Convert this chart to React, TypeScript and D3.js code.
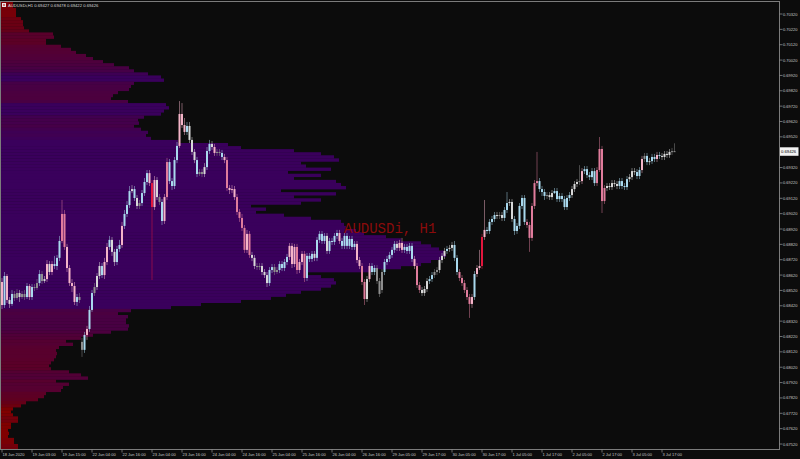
import React from "react";
import * as d3 from "d3";

const W = 800;
const H = 459;

// price axis tick labels
const priceTicks = [
  0.6752, 0.6762, 0.6772, 0.6782, 0.6792, 0.6802, 0.6812, 0.6822, 0.6832, 0.6842,
  0.6852, 0.6862, 0.6872, 0.6882, 0.6892, 0.6902, 0.6912, 0.6922, 0.6932, 0.6942,
  0.6952, 0.6962, 0.6972, 0.6982, 0.6992, 0.7002, 0.7012, 0.7022, 0.7032,
];

// time axis labels (one every 12 bars)
const timeLabels = [
  "18 Jun 2020", "19 Jun 03:00", "19 Jun 15:00", "22 Jun 04:00", "22 Jun 16:00",
  "23 Jun 04:00", "23 Jun 16:00", "24 Jun 04:00", "24 Jun 16:00", "25 Jun 04:00",
  "25 Jun 16:00", "26 Jun 04:00", "26 Jun 16:00", "29 Jun 05:00", "29 Jun 17:00",
  "30 Jun 05:00", "30 Jun 17:00", "1 Jul 05:00", "1 Jul 17:00", "2 Jul 05:00",
  "2 Jul 17:00", "3 Jul 05:00", "3 Jul 17:00",
];
const labelEvery = 12;

// H1 bars, prices in 1e-5 units
const closeP = [
  68425, 68614, 68458, 68432, 68497, 68471, 68503, 68477, 68497, 68477,
  68549, 68477, 68542, 68536, 68568, 68627, 68581, 68594, 68692, 68640,
  68692, 68679, 68732, 68842, 69018, 68803, 68666, 68568, 68549, 68445,
  68477, 68458, 68133, 68230, 68269, 68393, 68503, 68542, 68614, 68679,
  68620, 68705, 68803, 68849, 68771, 68705, 68790, 68816, 68940, 69018,
  69076, 69167, 69180, 69122, 69070, 69089, 69154, 69226, 69284, 69219,
  69063, 69239, 69128, 69096, 68972, 69128, 69356, 69232, 69200, 69369,
  69461, 69669, 69597, 69552, 69591, 69500, 69422, 69369, 69278, 69291,
  69278, 69323, 69428, 69474, 69454, 69415, 69422, 69415, 69389, 69369,
  69187, 69174, 69180, 69128, 69031, 68992, 68927, 68784, 68888, 68751,
  68732, 68679, 68672, 68679, 68640, 68620, 68568, 68653, 68672, 68640,
  68653, 68692, 68666, 68705, 68738, 68810, 68692, 68803, 68653, 68705,
  68758, 68601, 68745, 68725, 68758, 68732, 68849, 68888, 68842, 68875,
  68777, 68842, 68836, 68875, 68894, 68842, 68810, 68875, 68810, 68855,
  68803, 68823, 68718, 68679, 68575, 68464, 68594, 68679, 68640, 68666,
  68581, 68497, 68640, 68705, 68725, 68751, 68784, 68823, 68797, 68829,
  68784, 68803, 68777, 68810, 68725, 68679, 68555, 68523, 68503, 68529,
  68581, 68594, 68620, 68640, 68653, 68718, 68745, 68777, 68790, 68797,
  68816, 68732, 68640, 68601, 68568, 68523, 68477, 68432, 68477, 68627,
  68666, 68679, 68868, 68914, 68907, 68966, 68985, 69011, 69005, 69011,
  68992, 69044, 69089, 69096, 68985, 68907, 68940, 69070, 69122, 68966,
  68946, 68862, 69070, 69219, 69232, 69180, 69161, 69135, 69141, 69128,
  69154, 69167, 69115, 69135, 69115, 69063, 69122, 69141, 69180, 69213,
  69226, 69232, 69297, 69310, 69271, 69258, 69297, 69219, 69304, 69441,
  69102, 69187, 69200, 69193, 69219, 69213, 69200, 69232, 69200, 69193,
  69245, 69258, 69297, 69291, 69265, 69304, 69376, 69396, 69356, 69362,
  69389, 69376, 69402, 69396, 69389, 69409, 69402, 69422, 69427, 69426,
];

const highP = [
  68601, 68640, 68627, 68477, 68523, 68516, 68529, 68523, 68516, 68523,
  68568, 68562, 68562, 68562, 68594, 68653, 68646, 68614, 68718, 68711,
  68711, 68745, 68751, 68875, 69109, 69044, 68823, 68685, 68594, 68575,
  68497, 68503, 68211, 68250, 68289, 68419, 68523, 68568, 68633, 68705,
  68698, 68732, 68829, 68875, 68868, 68790, 68810, 68849, 68966, 69044,
  69102, 69200, 69206, 69200, 69141, 69109, 69174, 69252, 69304, 69304,
  69239, 69265, 69258, 69148, 69115, 69148, 69383, 69376, 69252, 69389,
  69487, 69753, 69740, 69643, 69617, 69617, 69519, 69441, 69389, 69310,
  69310, 69349, 69454, 69500, 69493, 69474, 69441, 69441, 69435, 69409,
  69389, 69206, 69206, 69200, 69148, 69050, 69018, 68946, 68914, 68907,
  68771, 68751, 68698, 68698, 68698, 68659, 68640, 68672, 68692, 68692,
  68672, 68711, 68711, 68725, 68758, 68829, 68829, 68823, 68823, 68725,
  68777, 68777, 68764, 68764, 68777, 68777, 68868, 68907, 68907, 68894,
  68894, 68862, 68862, 68894, 68914, 68914, 68862, 68894, 68894, 68875,
  68875, 68842, 68842, 68738, 68698, 68594, 68614, 68698, 68698, 68685,
  68685, 68601, 68659, 68725, 68745, 68771, 68803, 68842, 68842, 68849,
  68862, 68823, 68823, 68829, 68829, 68745, 68698, 68575, 68542, 68549,
  68601, 68614, 68640, 68659, 68672, 68738, 68764, 68797, 68810, 68816,
  68836, 68842, 68751, 68659, 68620, 68588, 68542, 68497, 68497, 68646,
  68685, 68784, 68888, 69109, 68933, 68985, 69005, 69031, 69031, 69031,
  69031, 69063, 69161, 69115, 69115, 69005, 68959, 69089, 69141, 69141,
  68985, 68966, 69089, 69239, 69422, 69252, 69200, 69180, 69161, 69161,
  69174, 69187, 69187, 69154, 69154, 69135, 69141, 69161, 69200, 69232,
  69245, 69336, 69317, 69330, 69330, 69291, 69317, 69317, 69323, 69519,
  69461, 69206, 69219, 69219, 69239, 69239, 69232, 69252, 69252, 69219,
  69265, 69278, 69317, 69317, 69310, 69323, 69396, 69415, 69415, 69383,
  69409, 69409, 69422, 69422, 69415, 69428, 69428, 69441, 69448, 69478,
];

const lowP = [
  68399, 68406, 68438, 68406, 68419, 68451, 68458, 68445, 68464, 68458,
  68464, 68458, 68458, 68516, 68523, 68549, 68562, 68568, 68575, 68620,
  68620, 68659, 68653, 68711, 68829, 68784, 68640, 68549, 68510, 68425,
  68419, 68438, 68087, 68113, 68198, 68250, 68380, 68484, 68523, 68594,
  68601, 68594, 68685, 68784, 68745, 68679, 68685, 68771, 68797, 68920,
  68998, 69057, 69154, 69102, 69050, 69050, 69070, 69135, 69206, 69200,
  68588, 69044, 69109, 69076, 68946, 68953, 69109, 69213, 69174, 69180,
  69349, 69448, 69578, 69532, 69532, 69480, 69402, 69349, 69258, 69265,
  69258, 69258, 69304, 69409, 69435, 69396, 69396, 69396, 69369, 69349,
  69167, 69148, 69154, 69109, 69011, 68966, 68907, 68764, 68764, 68732,
  68711, 68659, 68653, 68653, 68620, 68601, 68542, 68549, 68633, 68620,
  68627, 68633, 68646, 68646, 68685, 68718, 68666, 68672, 68627, 68633,
  68685, 68575, 68581, 68705, 68705, 68711, 68711, 68829, 68823, 68823,
  68758, 68758, 68816, 68816, 68855, 68823, 68790, 68790, 68790, 68790,
  68784, 68784, 68698, 68659, 68555, 68425, 68445, 68575, 68620, 68620,
  68562, 68477, 68503, 68620, 68685, 68705, 68732, 68764, 68777, 68777,
  68764, 68764, 68758, 68758, 68705, 68659, 68536, 68503, 68484, 68484,
  68510, 68562, 68575, 68601, 68620, 68633, 68698, 68725, 68758, 68771,
  68777, 68711, 68620, 68581, 68549, 68503, 68458, 68341, 68406, 68458,
  68607, 68653, 68659, 68849, 68888, 68888, 68946, 68966, 68985, 68985,
  68972, 68972, 69024, 69070, 68966, 68881, 68888, 68920, 69050, 68946,
  68927, 68771, 68842, 69050, 69200, 69161, 69135, 69109, 69115, 69109,
  69109, 69148, 69096, 69096, 69096, 69044, 69044, 69102, 69122, 69161,
  69193, 69206, 69213, 69278, 69252, 69239, 69239, 69200, 69200, 69291,
  69024, 69083, 69167, 69174, 69174, 69193, 69180, 69180, 69180, 69174,
  69174, 69226, 69239, 69271, 69245, 69245, 69284, 69356, 69336, 69336,
  69343, 69356, 69356, 69376, 69369, 69369, 69383, 69383, 69402, 69422,
];

// opens that differ from the previous close (session start / weekend gaps)
const gapOpens: Record<number, number> = { 0: 68575, 32: 68185, 152: 68523 };

// candle colour class
const toneStr =
  "pbpwbggwgg" + "bpbggbgwpw" + "pbbbqqpppp" + "bggbpbbgww" + "bppbwwbbpb" +
  "bbwbwgbbbp" + "Rpwgbpqbbb" + "bpppbwwwbg" + "gwbbwpggbp" + "qpppqqqqpq" +
  "wwggwwwbbg" + "gbbbbpppqp" + "pqbbbwbbbb" + "wbbbbpbbbb" + "bbppqqwpbb" +
  "gggbbbbbwp" + "pbbbbpqqww" + "wbbggwwwbw" + "wbbqqqqqpb" + "ppRpbbbbwg" +
  "wbbwwbbbbb" + "qqqqqbbbgw" + "wbbbbbbbww" + "wgpbbbbbqq" + "qqwwwwwbbb" +
  "bwwwbbpgbw" + "bbpbwwwwgg";
const tones = toneStr.split("");

const toneColor: Record<string, string> = {
  b: "#a9d9ee",
  p: "#f4b4c8",
  q: "#e07c9c",
  w: "#d8d8d8",
  g: "#8e8e8e",
  R: "#e3163d",
};

// volume profile, from the top price level downwards, 2-pip levels
const profileTop = 0.704;
const profileStep = 0.0002;
const profileVol = [
  12, 12, 15, 15, 15, 20, 22, 22, 23, 28,
  52, 53, 45, 45, 60, 70, 75, 85, 92, 102,
  113, 128, 133, 147, 160, 163, 133, 130, 128, 117,
  112, 110, 127, 165, 168, 163, 160, 143, 137, 138,
  133, 140, 147, 145, 150, 177, 227, 240, 293, 320,
  333, 338, 300, 305, 330, 287, 320, 293, 335, 340,
  345, 280, 335, 293, 320, 300, 250, 265, 255, 283,
  310, 340, 343, 345, 355, 363, 385, 400, 420, 430,
  438, 443, 445, 440, 430, 420, 400, 370, 307, 320,
  333, 335, 330, 320, 300, 285, 270, 240, 200, 170,
  130, 117, 127, 125, 125, 128, 127, 110, 92, 80,
  65, 72, 58, 55, 56, 55, 53, 50, 48, 50,
  68, 80, 87, 55, 68, 62, 60, 45, 43, 37,
  25, 20, 12, 10, 12, 17, 17, 10, 10, 7,
  8, 7, 13, 13, 17, 17,
];

const symbolText = "AUDUSDi,H1";
const watermark = "AUDUSDi, H1";

export default function App() {
  const plotL = 0.5;
  const plotT = 1.5;
  const plotR = 779.5;
  const plotB = 449.5;

  const x = d3.scaleLinear().domain([0, closeP.length - 1]).range([2, 674.5]);
  const y = d3.scaleLinear().domain([0.6752, 0.7032]).range([444, 14]);
  const vx = d3.scaleLinear().domain([0, d3.max(profileVol) as number]).range([0, 445]);
  const vColor = d3
    .scaleLinear<string>()
    .domain([10, 25, 60, 130, 155])
    .range(["#800000", "#640018", "#560030", "#480044", "#3a005c"])
    .clamp(true);

  const bars = closeP.map((c, i) => {
    const o = gapOpens[i] !== undefined ? gapOpens[i] : i > 0 ? closeP[i - 1] : c;
    return { o: o / 1e5, c: c / 1e5, h: highP[i] / 1e5, l: lowP[i] / 1e5, t: tones[i] };
  });
  const last = bars[bars.length - 1];
  const lastY = y(last.c);
  const fmt = d3.format(".5f");

  const axisFont = "'Liberation Sans', Arial, sans-serif";

  return (
    <svg
      width={W}
      height={H}
      style={{ position: "fixed", left: 0, top: 0, background: "#0c0c0c" }}
    >
      <defs>
        <clipPath id="plot">
          <rect x={plotL} y={plotT} width={plotR - plotL} height={plotB - plotT} />
        </clipPath>
      </defs>
      <rect x={0} y={0} width={W} height={H} fill="#0c0c0c" />

      <g clipPath="url(#plot)">
        {profileVol.map((v, j) => {
          const pTop = profileTop - profileStep * j;
          const pBot = pTop - profileStep;
          const y0 = y(pTop);
          const y1 = y(pBot);
          return (
            <rect
              key={"pv" + j}
              x={1}
              y={y0}
              width={vx(v)}
              height={y1 - y0 + 0.3}
              fill={vColor(v)}
            />
          );
        })}

        <text
          x={344}
          y={233}
          fontFamily="'Liberation Mono', 'DejaVu Sans Mono', monospace"
          fontSize={14}
          fill="#8b0b0b"
        >
          {watermark}
        </text>

        {bars.map((b, i) => {
          const cx = x(i);
          const col = toneColor[b.t] || "#cccccc";
          const top = y(Math.max(b.o, b.c));
          const bot = y(Math.min(b.o, b.c));
          const hy = y(Math.max(b.h, b.o, b.c));
          const ly = y(Math.min(b.l, b.o, b.c));
          return (
            <g key={"c" + i}>
              <line
                x1={cx}
                x2={cx}
                y1={hy}
                y2={ly}
                stroke={col}
                strokeOpacity={0.6}
                strokeWidth={0.8}
              />
              <rect
                x={cx - 1}
                y={top}
                width={2}
                height={Math.max(1, bot - top)}
                fill={col}
              />
            </g>
          );
        })}
      </g>

      {/* frame */}
      <rect
        x={plotL}
        y={plotT}
        width={plotR - plotL}
        height={plotB - plotT}
        fill="none"
        stroke="#7c7c7c"
        strokeWidth={1}
      />

      {/* header */}
      <rect x={2} y={3} width={4} height={4} fill="#e8e8e8" />
      <rect x={3} y={4.5} width={2} height={1} fill="#c00000" />
      <text x={8} y={7} fontFamily={axisFont} fontSize={4.2} fill="#d8d8d8">
        {symbolText + "  " + [bars[bars.length - 1].o, last.h, last.l, last.c].map(fmt).join(" ")}
      </text>

      {/* price axis */}
      {priceTicks.map((p) => {
        const ty = y(p);
        if (Math.abs(ty - lastY) < 8) return null;
        return (
          <g key={"pt" + p}>
            <line x1={plotR} x2={plotR + 3} y1={ty} y2={ty} stroke="#9a9a9a" strokeWidth={0.7} />
            <text
              x={783}
              y={ty + 1.5}
              fontFamily={axisFont}
              fontSize={4}
              fill="#c8c8c8"
            >
              {fmt(p)}
            </text>
          </g>
        );
      })}
      <rect x={780} y={lastY - 4} width={18.5} height={8.5} fill="#f2f2f2" />
      <text x={781} y={lastY + 1.6} fontFamily={axisFont} fontSize={4.2} fill="#000000">
        {fmt(last.c)}
      </text>

      {/* time axis */}
      {timeLabels.map((lab, k) => {
        const tx = x(k * labelEvery);
        return (
          <g key={"tl" + k}>
            <line x1={tx} x2={tx} y1={plotB} y2={plotB + 3} stroke="#9a9a9a" strokeWidth={0.7} />
            <text x={tx + 0.5} y={455.5} fontFamily={axisFont} fontSize={4} fill="#c8c8c8">
              {lab}
            </text>
          </g>
        );
      })}
    </svg>
  );
}
